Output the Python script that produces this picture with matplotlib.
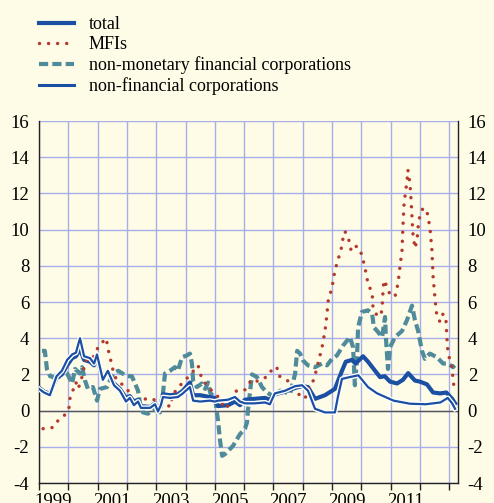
import matplotlib
matplotlib.use("Agg")
import matplotlib.pyplot as plt
import matplotlib.patheffects as pe
import numpy as np

plt.rcParams['font.family'] = ['Liberation Serif', 'DejaVu Serif']
plt.rcParams['axes.unicode_minus'] = False

# annual percentage changes (decimal years)
total_t = [1999.0, 1999.17, 1999.37, 1999.6, 1999.78, 1999.96, 2000.13, 2000.26, 2000.4, 2000.54,
           2000.74, 2000.88, 2000.98, 2001.18, 2001.35, 2001.56, 2001.76, 2001.97, 2002.1, 2002.24,
           2002.38, 2002.48, 2002.79, 2002.96, 2003.06, 2003.16, 2003.23, 2003.47, 2003.74, 2003.91,
           2004.15, 2004.26, 2004.5, 2004.83, 2005.0, 2005.11, 2005.45, 2005.69, 2005.86, 2006.03,
           2006.37, 2006.71, 2006.88, 2007.05, 2007.4, 2007.74, 2007.98, 2008.18, 2008.42, 2008.76,
           2009.1, 2009.34, 2009.47, 2009.68, 2009.8, 2010.06, 2010.23, 2010.47, 2010.64, 2010.8,
           2010.98, 2011.22, 2011.42, 2011.6, 2011.83, 2012.0, 2012.24, 2012.45, 2012.69, 2012.9,
           2013.1, 2013.2]
total_v = [1.27, 1.05, 0.93, 1.8, 2.0, 2.5, 2.9, 3.0, 3.4, 2.8,
           2.7, 2.5, 2.9, 1.8, 2.1, 1.5, 1.2, 0.7, 0.8, 0.5,
           0.6, 0.25, 0.2, 0.4, 0.05, 0.35, 0.9, 0.85, 0.9, 1.1,
           1.55, 0.85, 0.85, 0.75, 0.7, 0.25, 0.3, 0.5, 0.3, 0.6,
           0.65, 0.7, 0.6, 0.9, 1.05, 1.25, 1.35, 1.3, 0.65, 0.85,
           1.2, 2.2, 2.7, 2.8, 2.6, 3.0, 2.7, 2.2, 1.85, 1.9,
           1.6, 1.5, 1.7, 2.07, 1.66, 1.6, 1.45, 1.0, 0.95, 1.0,
           0.65, 0.4]

nfc_t = [1999.0, 1999.17, 1999.37, 1999.6, 1999.78, 1999.96, 2000.13, 2000.26, 2000.4, 2000.54,
         2000.74, 2000.88, 2000.98, 2001.18, 2001.35, 2001.56, 2001.76, 2001.97, 2002.1, 2002.24,
         2002.38, 2002.48, 2002.79, 2002.96, 2003.06, 2003.16, 2003.23, 2003.47, 2003.74, 2003.91,
         2004.15, 2004.26, 2004.5, 2004.83, 2005.0, 2005.11, 2005.45, 2005.69, 2005.86, 2006.03,
         2006.37, 2006.71, 2006.88, 2007.05, 2007.4, 2007.74, 2007.98, 2008.18, 2008.42, 2008.76,
         2009.1, 2009.2, 2009.34, 2009.6, 2009.9, 2010.23, 2010.53, 2011.1, 2011.66, 2012.2,
         2012.7, 2012.95, 2013.1, 2013.2]
nfc_v = [1.2, 1.0, 0.85, 1.9, 2.2, 2.8, 3.1, 3.2, 4.0, 3.0,
         2.9, 2.6, 3.1, 1.7, 2.2, 1.4, 1.1, 0.5, 0.7, 0.3,
         0.5, 0.15, 0.15, 0.35, -0.05, 0.3, 0.75, 0.7, 0.75, 0.95,
         1.3, 0.55, 0.5, 0.55, 0.5, 0.55, 0.6, 0.75, 0.5, 0.4,
         0.4, 0.45, 0.35, 0.95, 1.1, 1.35, 1.4, 1.1, 0.1, -0.1,
         -0.1, 0.75, 1.75, 1.85, 1.95, 1.3, 0.96, 0.55, 0.38, 0.35,
         0.45, 0.7, 0.4, 0.1]

mfi_t = [1999.14, 1999.34, 1999.51, 1999.65, 1999.85, 2000.02, 2000.06, 2000.13, 2000.26, 2000.33,
         2000.43, 2000.54, 2000.6, 2000.77, 2000.95, 2001.01, 2001.12, 2001.29, 2001.35, 2001.39,
         2001.46, 2001.53, 2001.63, 2001.87, 2002.04, 2002.21, 2002.41, 2002.65, 2002.89, 2003.03,
         2003.23, 2003.47, 2003.57, 2003.91, 2004.09, 2004.43, 2004.49, 2004.6, 2004.77, 2005.08,
         2005.35, 2005.52, 2005.62, 2005.79, 2006.03, 2006.2, 2006.3, 2006.54, 2006.78, 2006.88,
         2007.02, 2007.12, 2007.16, 2007.4, 2007.63, 2007.84, 2008.08, 2008.18, 2008.32, 2008.42,
         2008.52, 2008.66, 2008.76, 2008.83, 2008.86, 2009.0, 2009.1, 2009.2, 2009.34, 2009.38,
         2009.44, 2009.55, 2009.65, 2009.72, 2009.89, 2010.02, 2010.13, 2010.23, 2010.37, 2010.4,
         2010.54, 2010.67, 2010.71, 2010.74, 2010.77, 2010.88, 2010.98, 2011.15, 2011.25, 2011.32,
         2011.39, 2011.42, 2011.46, 2011.56, 2011.59, 2011.66, 2011.7, 2011.73, 2011.76, 2011.83,
         2011.9, 2011.94, 2012.0, 2012.11, 2012.24, 2012.34, 2012.41, 2012.45, 2012.52, 2012.58,
         2012.69, 2012.79, 2012.89, 2012.92, 2012.96, 2013.1, 2013.13, 2013.19]
mfi_v = [-1.0, -1.0, -0.9, -0.55, -0.3, 0.1, 0.7, 1.0, 1.57, 1.2,
         1.6, 2.4, 2.77, 2.77, 3.2, 3.5, 3.7, 4.0, 3.5, 3.15,
         2.7, 2.2, 1.75, 1.4, 1.1, 0.38, 0.55, 0.65, 0.65, 0.45,
         0.55, 0.2, 0.9, 1.57, 1.85, 2.5, 2.07, 1.66, 1.3, 0.83,
         0.1, 0.38, 0.93, 1.15, 1.15, 1.57, 1.45, 1.75, 1.85, 2.1,
         2.4, 2.4, 1.94, 1.75, 1.48, 0.93, 0.66, 1.2, 1.48, 1.94,
         2.6, 3.5, 4.4, 5.35, 6.0, 6.8, 7.75, 8.3, 9.1, 9.6,
         9.9, 9.6, 8.86, 9.1, 9.05, 8.6, 7.85, 7.0, 6.5, 5.65,
         5.25, 5.25, 5.7, 6.55, 7.2, 6.85, 6.4, 6.3, 7.0, 7.95,
         8.86, 10.15, 11.45, 12.7, 13.3, 12.55, 11.6, 10.7, 9.8, 8.97,
         9.4, 10.15, 10.8, 11.2, 11.0, 10.15, 8.86, 7.4, 6.1, 5.17,
         4.9, 5.35, 5.0, 4.06, 3.15, 2.4, 1.66, 1.1]

nmfc_t = [1999.1, 1999.2, 1999.27, 1999.38, 1999.48, 1999.61, 1999.78, 1999.96, 2000.13, 2000.23,
          2000.4, 2000.47, 2000.57, 2000.67, 2000.84, 2000.98, 2001.08, 2001.32, 2001.53, 2001.7,
          2002.0, 2002.17, 2002.38, 2002.45, 2002.55, 2002.72, 2002.89, 2003.13, 2003.23, 2003.3,
          2003.47, 2003.64, 2003.74, 2003.88, 2004.05, 2004.15, 2004.22, 2004.26, 2004.39, 2004.56,
          2004.67, 2004.77, 2004.84, 2005.01, 2005.11, 2005.18, 2005.25, 2005.35, 2005.62, 2005.86,
          2006.03, 2006.1, 2006.13, 2006.2, 2006.27, 2006.44, 2006.61, 2006.78, 2006.99, 2007.23,
          2007.57, 2007.74, 2007.81, 2007.91, 2008.01, 2008.18, 2008.42, 2008.66, 2008.83, 2009.0,
          2009.17, 2009.38, 2009.61, 2009.72, 2009.78, 2009.85, 2009.89, 2010.02, 2010.23, 2010.37,
          2010.43, 2010.54, 2010.71, 2010.81, 2010.84, 2010.91, 2010.98, 2011.15, 2011.39, 2011.56,
          2011.73, 2011.83, 2011.94, 2012.07, 2012.17, 2012.34, 2012.58, 2012.79, 2012.96, 2013.13,
          2013.19]
nmfc_v = [3.3, 3.3, 2.3, 1.9, 1.85, 1.66, 2.2, 2.05, 1.5, 2.3,
          2.05, 2.4, 1.66, 1.2, 1.3, 0.55, 1.2, 1.3, 2.05, 2.2,
          1.9, 1.9, 1.1, 0.38, -0.1, -0.17, 0.1, -0.1, 0.93, 2.05,
          2.2, 2.4, 2.2, 2.95, 3.05, 3.15, 2.6, 1.66, 1.3, 1.5,
          1.2, 1.55, 1.0, 0.66, -0.55, -1.66, -2.5, -2.4, -1.95, -1.3,
          -1.0, -0.65, 0.0, 1.0, 2.0, 1.85, 1.3, 1.0, 0.8, 1.1,
          0.93, 2.03, 3.3, 3.15, 2.77, 2.5, 2.4, 2.6, 2.5, 2.86,
          3.05, 3.6, 4.06, 3.5, 1.4, 2.77, 4.6, 5.45, 5.54, 5.35,
          4.6, 4.4, 4.06, 5.17, 4.0, 2.3, 3.5, 4.06, 4.4, 5.0,
          5.8, 5.0, 4.4, 3.3, 2.86, 3.15, 2.95, 2.6, 2.6, 2.4,
          2.5]

labels = ["total", "MFIs", "non-monetary financial corporations", "non-financial corporations"]
year_labels = [1999, 2001, 2003, 2005, 2007, 2009, 2011]

bg = "#fefce6"
blue = "#1a4fa3"
red = "#b33a2e"
teal = "#4f8b9b"
grid_c = "#a8aeea"

fig = plt.figure(figsize=(4.94, 5.03), dpi=100, facecolor=bg)
ax = fig.add_axes([39/494, 1-483/503, (458-39)/494, (483-121)/503])
ax.set_facecolor(bg)

ax.set_xlim(1999.0, 2013.3)
ax.set_ylim(-4, 16)

ax.set_yticks(np.arange(-4, 17, 2))
ax.set_xticks(np.arange(1999, 2014))
ax.set_xticks([y + 0.5 for y in year_labels], minor=True)
ax.set_xticklabels([])
ax.set_xticklabels([str(y) for y in year_labels], minor=True)
ax.grid(True, which='major', color=grid_c, lw=1.0)
ax.set_axisbelow(True)

ax.tick_params(axis='y', length=0, labelsize=13.5, pad=7, labelright=True, right=False)
ax.tick_params(axis='x', which='major', direction='out', length=5, width=1, color='#222222')
ax.tick_params(axis='x', which='minor', length=0, labelsize=13.5, pad=7)
for s in ['left', 'right', 'bottom']:
    ax.spines[s].set_color('#222222')
    ax.spines[s].set_linewidth(1.0)
ax.spines['top'].set_visible(False)

ax.axhline(0, color='#555555', lw=1.0, zorder=1)

h_total, = ax.plot(total_t, total_v, color=blue, lw=3.0, zorder=3)
h_mfi, = ax.plot(mfi_t, mfi_v, color=red, lw=2.5, linestyle=(0, (0.01, 2.6)),
                 dash_capstyle='round', zorder=4)
h_nmfc, = ax.plot(nmfc_t, nmfc_v, color=teal, lw=3.0, linestyle=(0, (2.2, 1.0)), zorder=2)
h_nfc, = ax.plot(nfc_t, nfc_v, color=blue, lw=1.6, zorder=5,
                 path_effects=[pe.Stroke(linewidth=3.6, foreground='white'), pe.Normal()])

leg = fig.legend([h_total, h_mfi, h_nmfc, h_nfc], labels, loc='upper left',
                 bbox_to_anchor=(32/494, 1-9/503), frameon=False, fontsize=13,
                 handlelength=1.95, handletextpad=0.8, labelspacing=0.17, borderaxespad=0)
leg.legend_handles[3].set_path_effects([])
leg.legend_handles[3].set_linewidth(2.2)

fig.savefig("out.png", dpi=100, facecolor=bg)
